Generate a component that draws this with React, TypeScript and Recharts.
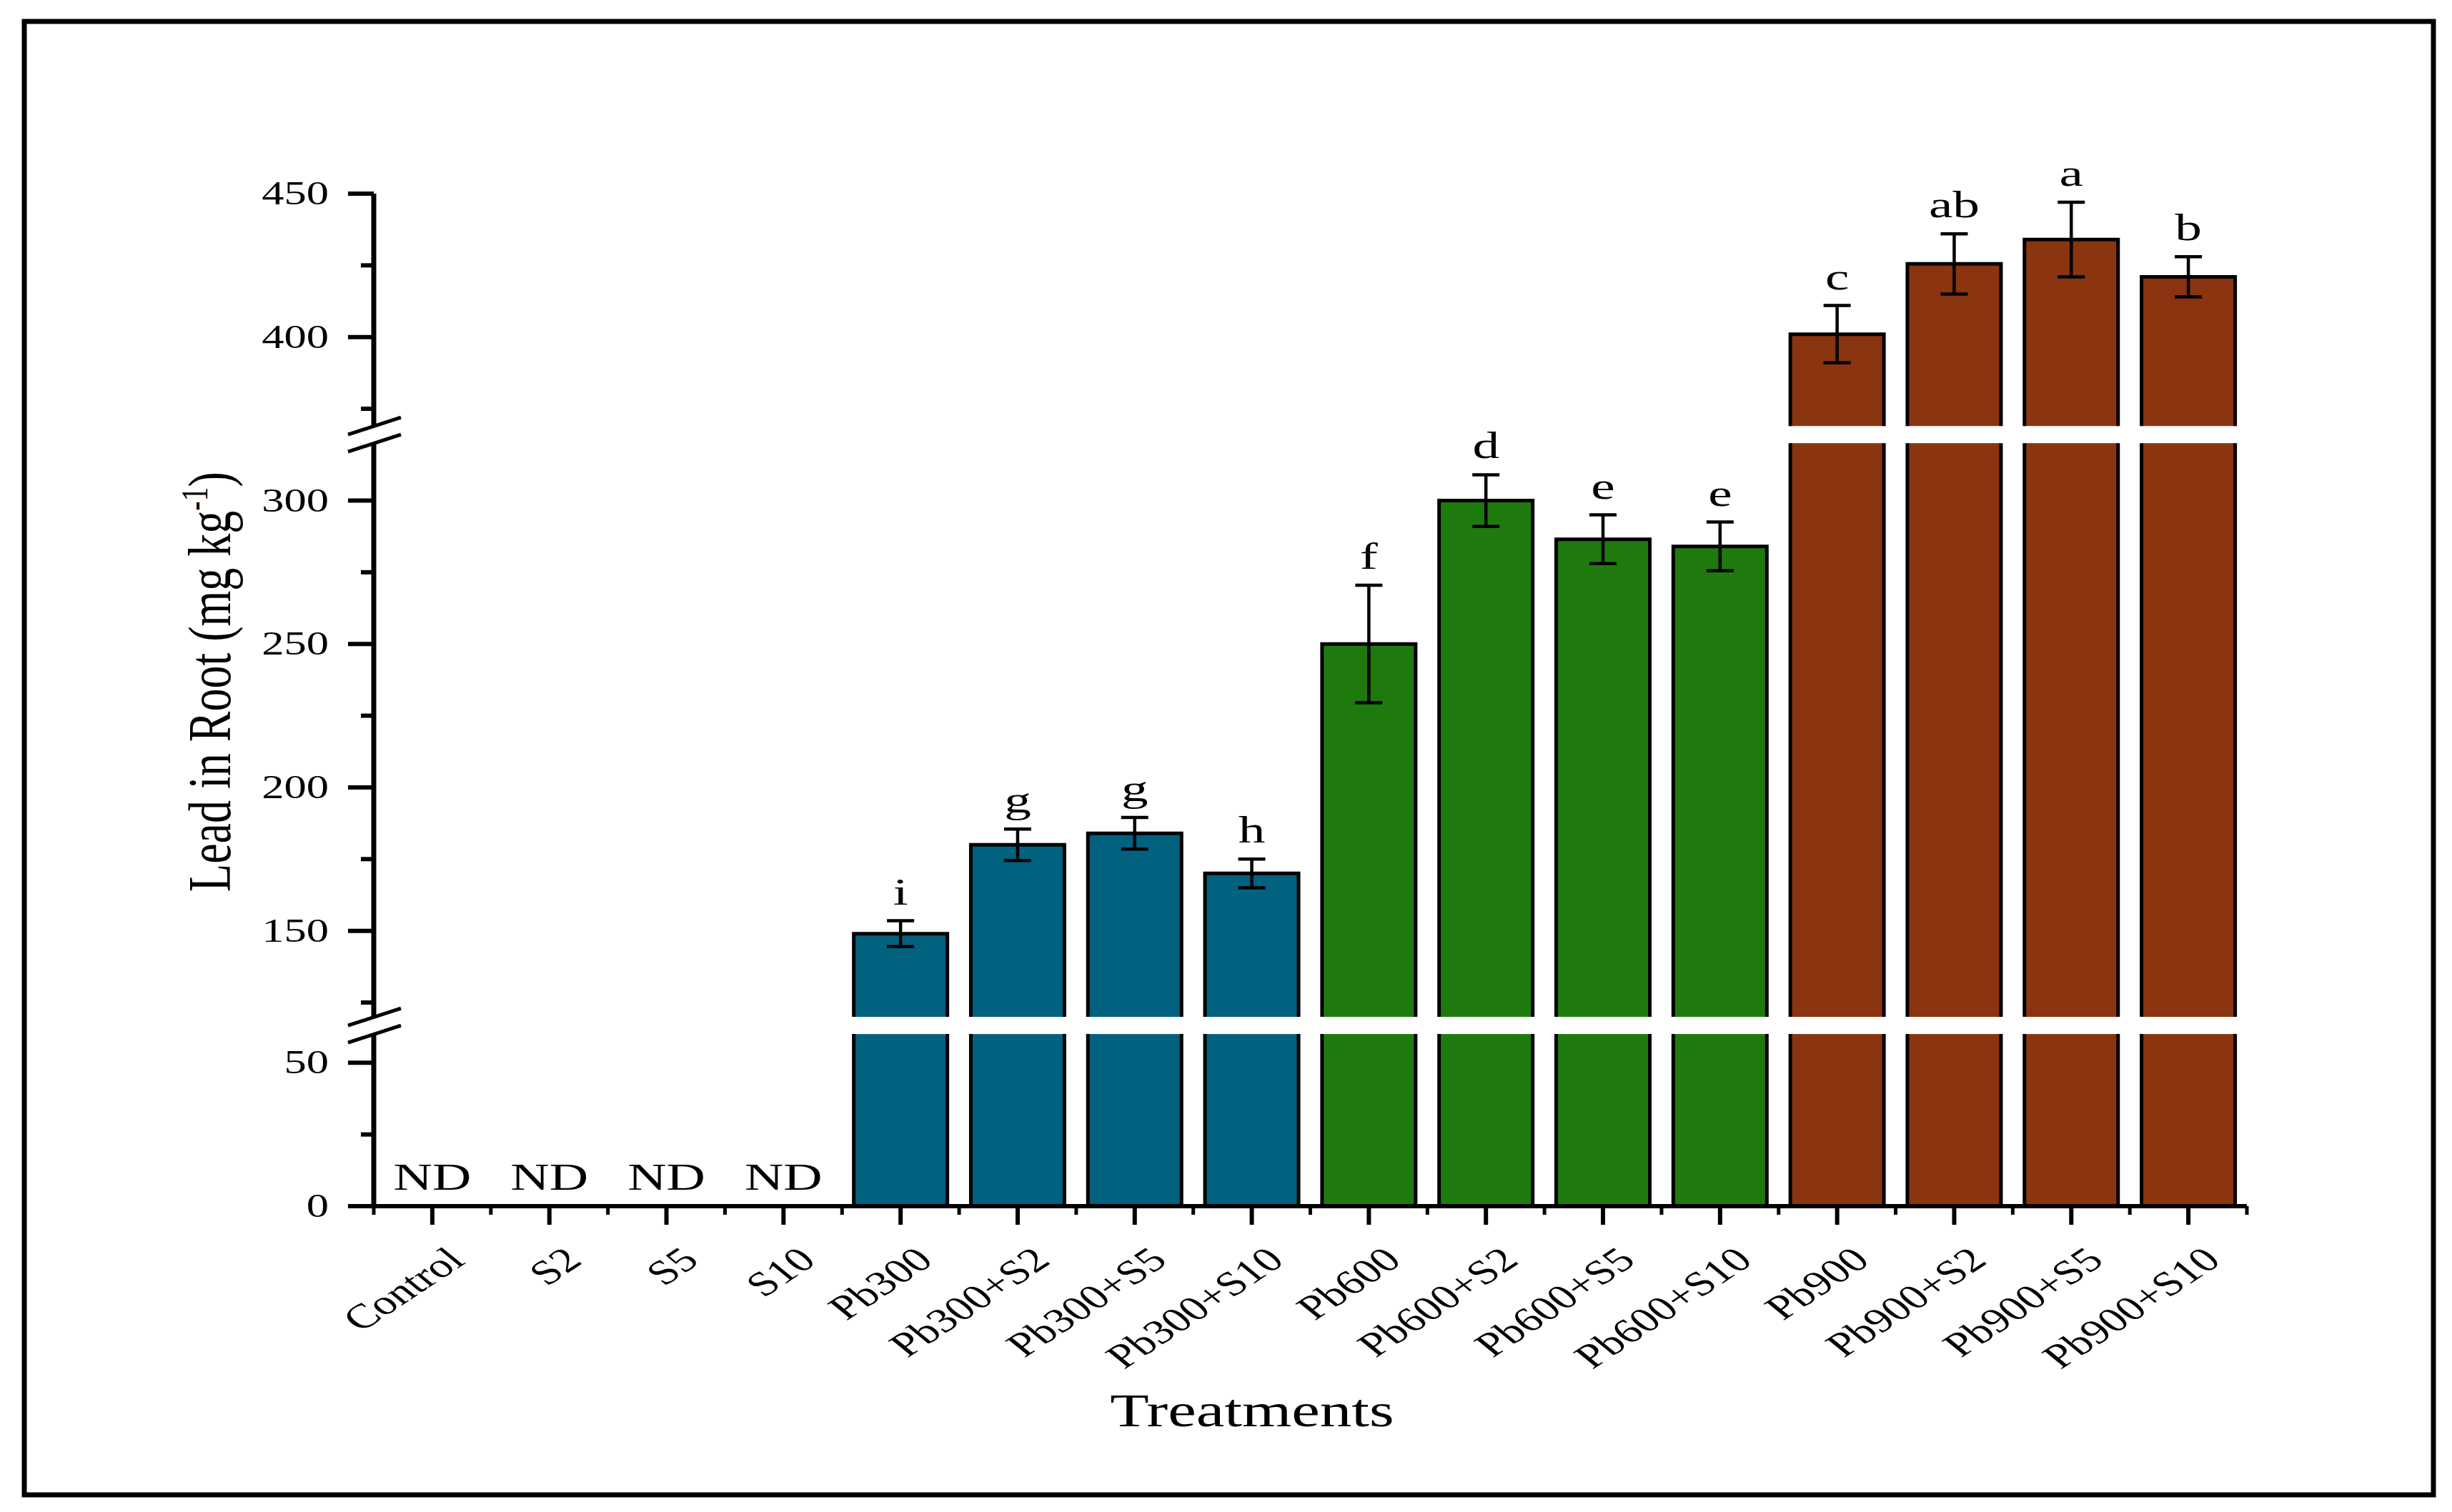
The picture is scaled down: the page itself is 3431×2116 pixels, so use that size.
import React from "react";
import { BarChart, Bar, XAxis, YAxis, ErrorBar, LabelList, Cell } from "recharts";

const categories = [
  "Control", "S2", "S5", "S10",
  "Pb300", "Pb300+S2", "Pb300+S5", "Pb300+S10",
  "Pb600", "Pb600+S2", "Pb600+S5", "Pb600+S10",
  "Pb900", "Pb900+S2", "Pb900+S5", "Pb900+S10",
];
// lead in root, mg kg-1 (0 = not detected)
const leadRoot = [0, 0, 0, 0, 149, 180, 184, 170, 250, 300, 286.5, 284, 401, 425.5, 434, 421];
const leadRootSE = [0, 0, 0, 0, 4.5, 5.5, 5.5, 5, 20.5, 9, 8.5, 8.5, 10, 10.5, 13, 7];
const letters = ["ND", "ND", "ND", "ND", "i", "g", "g", "h", "f", "d", "e", "e", "c", "ab", "a", "b"];

const yMajorTicks = [0, 50, 150, 200, 250, 300, 400, 450];
const yMinorTicks = [25, 125, 175, 225, 275, 375, 425];

// broken y axis: the real ranges that are shown, with a gap between them
const segments = [[0, 60], [120, 320], [369, 450]];
const GAP = 6;
const GAP_PX = 24;

const FONT = "'Liberation Serif', 'Times New Roman', serif";
const STRETCH = 1.36;

const groupColor = (name: string) => {
  if (name.startsWith("Pb300")) return "#01617F";
  if (name.startsWith("Pb600")) return "#1F7A0E";
  if (name.startsWith("Pb900")) return "#8A3410";
  return "#999";
};

function toAxis(v: number) {
  let base = 0;
  for (let i = 0; i < segments.length; i++) {
    const [lo, hi] = segments[i];
    if (v <= hi || i === segments.length - 1) return base + Math.max(v, lo) - lo;
    base += hi - lo + GAP;
  }
  return base;
}

const breakCenters: number[] = [];
{
  let base = 0;
  for (let i = 0; i < segments.length - 1; i++) {
    base += segments[i][1] - segments[i][0];
    breakCenters.push(base + GAP / 2);
    base += GAP;
  }
}
const axisTop = toAxis(450);

const data = categories.map((name, i) => ({
  name,
  value: leadRoot[i] > 0 ? toAxis(leadRoot[i]) : 0,
  err: leadRootSE[i] > 0 ? leadRootSE[i] : null,
  letter: letters[i],
}));

const yTickInfo = new Map<number, { kind: string; label?: string }>();
yMajorTicks.forEach((v) => yTickInfo.set(toAxis(v), { kind: "major", label: String(v) }));
yMinorTicks.forEach((v) => yTickInfo.set(toAxis(v), { kind: "minor" }));
breakCenters.forEach((v) => yTickInfo.set(v, { kind: "break" }));
const yTicks = Array.from(yTickInfo.keys()).sort((a, b) => a - b);

function YTick(props: any) {
  const { x, y, payload } = props;
  const info = yTickInfo.get(payload.value);
  if (!info) return null;
  if (info.kind === "break") {
    return (
      <g>
        <rect x={x - 6} y={y - GAP_PX / 2} width={12} height={GAP_PX} fill="#fff" />
        <line x1={x - 36} y1={y} x2={x + 38} y2={y - 24} stroke="#000" strokeWidth={5} />
        <line x1={x - 36} y1={y + 24} x2={x + 38} y2={y} stroke="#000" strokeWidth={5} />
      </g>
    );
  }
  const major = info.kind === "major";
  return (
    <g>
      <line x1={x - (major ? 36 : 18)} y1={y} x2={x} y2={y} stroke="#000" strokeWidth={6} />
      {major && (
        <text
          transform={`translate(${x - 63},${y + 15}) scale(${STRETCH},1)`}
          textAnchor="end"
          fontSize={46}
          fontFamily={FONT}
          fill="#000"
        >
          {info.label}
        </text>
      )}
    </g>
  );
}

function XTick(props: any) {
  const { x, y, payload, index } = props;
  const half = payload && payload.offset ? payload.offset : 82;
  return (
    <g>
      <line x1={x} y1={y} x2={x} y2={y + 26} stroke="#000" strokeWidth={6} />
      <line x1={x - half} y1={y} x2={x - half} y2={y + 12} stroke="#000" strokeWidth={5} />
      {index === categories.length - 1 && (
        <line x1={x + half} y1={y} x2={x + half} y2={y + 12} stroke="#000" strokeWidth={5} />
      )}
      <text
        transform={`translate(${x + 48},${y + 79}) scale(${STRETCH},1) rotate(-42)`}
        textAnchor="end"
        fontSize={48}
        fontFamily={FONT}
        fill="#000"
      >
        {payload.value}
      </text>
    </g>
  );
}

function BrokenBar(props: any) {
  const { x, y, width, height, fill, payload } = props;
  if (!height || height <= 0 || !payload || !payload.value) return null;
  const ppu = height / payload.value;
  const base = y + height;
  const cuts = breakCenters
    .filter((c) => c + GAP / 2 < payload.value)
    .map((c) => base - c * ppu)
    .sort((a, b) => a - b);
  const parts: [number, number][] = [];
  let top = y;
  cuts.forEach((cy) => {
    parts.push([top, cy - GAP_PX / 2]);
    top = cy + GAP_PX / 2;
  });
  parts.push([top, base]);
  const r = x + width;
  return (
    <g>
      {parts.map(([a, b], i) => (
        <g key={i}>
          <rect x={x} y={a} width={width} height={b - a} fill={fill} />
          <path
            d={i === 0 ? `M${x},${b} L${x},${a} L${r},${a} L${r},${b}` : `M${x},${a} L${x},${b} M${r},${a} L${r},${b}`}
            fill="none"
            stroke="#000"
            strokeWidth={5}
            strokeLinejoin="miter"
          />
        </g>
      ))}
    </g>
  );
}

function LetterLabel(props: any) {
  const vb = props.viewBox || {};
  const x = props.x ?? vb.x;
  const y = props.y ?? vb.y;
  const width = props.width ?? vb.width;
  const height = props.height ?? vb.height;
  const row = data[props.index];
  if (!row) return null;
  let top = y;
  if (row.value > 0 && row.err) top = y - row.err * (height / row.value);
  return (
    <text
      transform={`translate(${x + width / 2},${top - 23}) scale(1.42,1)`}
      textAnchor="middle"
      fontSize={53}
      fontFamily={FONT}
      fill="#000"
    >
      {row.letter}
    </text>
  );
}

export default function App() {
  return (
    <div style={{ position: "absolute", left: 0, top: 0, width: 3431, height: 2116, background: "#fff" }}>
      <BarChart
        width={3431}
        height={2116}
        data={data}
        margin={{ top: 271, right: 287, bottom: 328, left: 423 }}
        barCategoryGap="10%"
      >
        <XAxis
          dataKey="name"
          interval={0}
          tickSize={0}
          tickMargin={0}
          height={100}
          axisLine={{ stroke: "#000", strokeWidth: 6 }}
          tickLine={false}
          tick={(p: any) => <XTick {...p} />}
        />
        <YAxis
          type="number"
          domain={[0, axisTop]}
          ticks={yTicks}
          interval={0}
          tickSize={0}
          tickMargin={0}
          width={100}
          axisLine={{ stroke: "#000", strokeWidth: 7 }}
          tickLine={false}
          tick={(p: any) => <YTick {...p} />}
        />
        <Bar dataKey="value" shape={(p: any) => <BrokenBar {...p} />} isAnimationActive={false}>
          {data.map((d, i) => (
            <Cell key={`c-${i}`} fill={groupColor(d.name)} />
          ))}
          <ErrorBar dataKey="err" width={19} stroke="#000" strokeWidth={4.5} direction="y" isAnimationActive={false} />
          <LabelList dataKey="letter" content={(p: any) => <LetterLabel {...p} />} />
        </Bar>
      </BarChart>
      <svg width={3431} height={2116} style={{ position: "absolute", left: 0, top: 0, pointerEvents: "none" }}>
        <rect x={34} y={30} width={3371} height={2062} fill="none" stroke="#000" strokeWidth={7} />
        <text
          transform={`translate(322,954) scale(1.33,1) rotate(-90)`}
          textAnchor="middle"
          fontSize={64}
          fontFamily={FONT}
          fill="#000"
        >
          Lead in Root (mg kg
          <tspan fontSize={40} dy={-24}>-1</tspan>
          <tspan dy={24}>)</tspan>
        </text>
        <text
          transform={`translate(1752,1996) scale(1.37,1)`}
          textAnchor="middle"
          fontSize={65}
          fontFamily={FONT}
          fill="#000"
        >
          Treatments
        </text>
      </svg>
    </div>
  );
}
